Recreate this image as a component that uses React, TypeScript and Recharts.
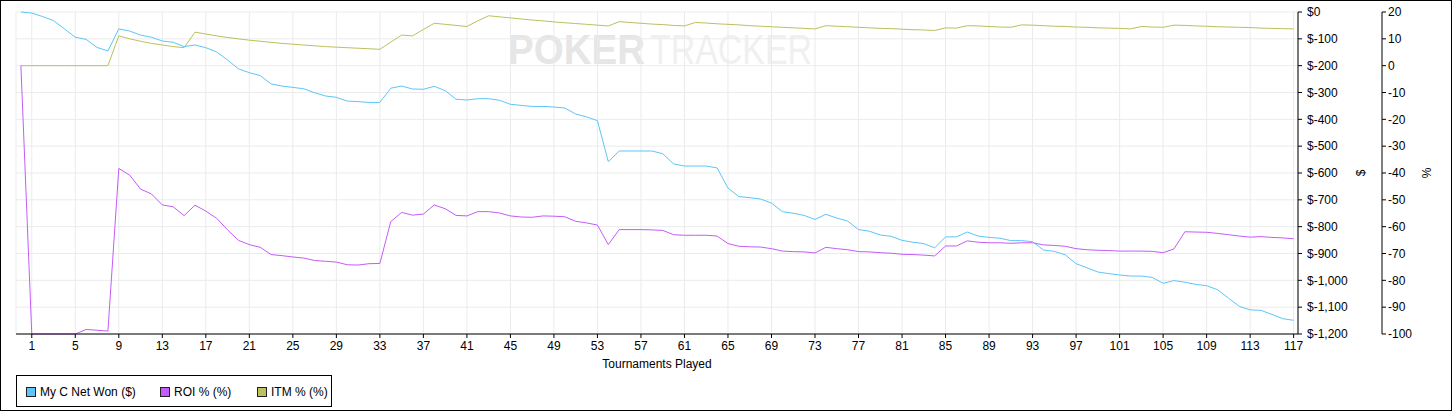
import { LineChart, Line, XAxis, YAxis, CartesianGrid } from "recharts";

const NET_WON = [
  0, -4, -17, -32, -63, -94, -102, -132, -145, -63,
  -71, -86, -94, -108, -113, -129, -123, -133, -149, -179,
  -212, -226, -237, -268, -276, -281, -286, -301, -313, -318,
  -332, -334, -337, -337, -284, -276, -287, -288, -277, -293,
  -325, -328, -323, -323, -329, -344, -348, -352, -352, -354,
  -358, -380, -391, -405, -558, -518, -518, -518, -518, -528,
  -566, -574, -574, -574, -581, -656, -688, -692, -697, -712,
  -744, -750, -758, -773, -754, -768, -779, -811, -817, -831,
  -836, -851, -858, -863, -879, -838, -838, -820, -835, -840,
  -843, -852, -852, -856, -887, -892, -905, -938, -953, -969,
  -975, -980, -984, -984, -989, -1011, -1001, -1007, -1015, -1020,
  -1035, -1066, -1097, -1110, -1112, -1127, -1143, -1149,
];

const ROI = [
  0, -100, -100, -100, -100, -100, -98.3, -98.6, -98.9, -38.3,
  -40.8, -46, -47.8, -51.9, -52.6, -55.9, -52, -54.2, -56.9, -61.2,
  -65.1, -66.7, -67.7, -70.4, -70.8, -71.3, -71.7, -72.6, -72.9, -73.2,
  -74.2, -74.3, -73.8, -73.7, -58.1, -54.7, -55.7, -55.3, -51.9, -53.3,
  -55.8, -56, -54.4, -54.4, -54.9, -56, -56.4, -56.5, -56, -56.1,
  -56.3, -58, -58.6, -59.4, -66.7, -61.1, -61.1, -61.1, -61.2, -61.4,
  -63, -63.2, -63.2, -63.2, -63.5, -66.3, -67.3, -67.5, -67.6, -68.2,
  -69.1, -69.3, -69.4, -69.8, -67.7, -68.2, -68.6, -69.3, -69.4, -69.7,
  -69.9, -70.3, -70.4, -70.6, -70.9, -67.2, -67.2, -65.3, -65.8, -66,
  -66, -66.2, -66, -66, -66.8, -67, -67.3, -68.2, -68.6, -68.8,
  -68.9, -69.1, -69.1, -69.1, -69.2, -69.7, -68.3, -61.9, -62, -62.1,
  -62.5, -63, -63.5, -63.9, -63.7, -64, -64.2, -64.5,
];

const ITM = [
  0, 0, 0, 0, 0, 0, 0, 0, 0, 11.1,
  10.0, 9.1, 8.3, 7.7, 7.1, 6.7, 12.5, 11.8, 11.1, 10.5,
  10.0, 9.5, 9.1, 8.7, 8.3, 8.0, 7.7, 7.4, 7.1, 6.9,
  6.7, 6.5, 6.3, 6.1, 8.8, 11.4, 11.1, 13.5, 15.8, 15.4,
  15.0, 14.6, 16.7, 18.6, 18.2, 17.8, 17.4, 17.0, 16.7, 16.3,
  16.0, 15.7, 15.4, 15.1, 14.8, 16.4, 16.1, 15.8, 15.5, 15.3,
  15.0, 14.8, 16.1, 15.9, 15.6, 15.4, 15.2, 14.9, 14.7, 14.5,
  14.3, 14.1, 13.9, 13.7, 14.9, 14.7, 14.5, 14.3, 14.1, 13.9,
  13.8, 13.6, 13.4, 13.3, 13.1, 14.1, 14.0, 14.9, 14.8, 14.6,
  14.4, 14.3, 15.2, 15.1, 14.9, 14.7, 14.6, 14.4, 14.3, 14.1,
  14.0, 13.9, 13.7, 14.6, 14.4, 14.3, 15.1, 15.0, 14.8, 14.7,
  14.5, 14.4, 14.3, 14.2, 14.0, 13.9, 13.8, 13.7,
];

const X_TICKS = [
  1, 5, 9, 13, 17, 21, 25, 29, 33, 37, 41, 45, 49, 53, 57, 61, 65, 69, 73,
  77, 81, 85, 89, 93, 97, 101, 105, 109, 113, 117,
];
const USD_TICKS = [0, -100, -200, -300, -400, -500, -600, -700, -800, -900, -1000, -1100, -1200];
const PCT_TICKS = [20, 10, 0, -10, -20, -30, -40, -50, -60, -70, -80, -90, -100];

const BLUE = "#5cc6f8";
const PURPLE = "#c35cf8";
const OLIVE = "#bcc05e";
const FONT = "'Liberation Sans', Arial, sans-serif";

// axis ids: recharts orders stacked right axes by id, "a_usd" sits next to the plot
const USD_AXIS = "a_usd";
const PCT_AXIS = "b_pct";

const data = NET_WON.map((netWon, t) => ({ t, netWon, roi: ROI[t], itm: ITM[t] }));

const fmtUsd = (v: number) => (v === 0 ? "$0" : "$-" + Math.abs(v).toLocaleString("en-US"));

const tickStyle = { fill: "#000", fontSize: 12, fontFamily: FONT };

function sideLabel(text: string, dx: number) {
  return (props: any) => {
    const vb = props.viewBox;
    const x = vb.x + dx;
    const y = vb.y + vb.height / 2;
    return (
      <text x={x} y={y} transform={`rotate(-90 ${x} ${y})`} textAnchor="middle" dy="0.35em" fontSize={12} fontFamily={FONT} fill="#000">
        {text}
      </text>
    );
  };
}

const xLabel = (props: any) => {
  const vb = props.viewBox;
  return (
    <text x={vb.x + vb.width / 2} y={vb.y + 34} textAnchor="middle" fontSize={12} fontFamily={FONT} fill="#000">
      Tournaments Played
    </text>
  );
};

const LEGEND = [
  { name: "My C Net Won ($)", color: BLUE, left: 9 },
  { name: "ROI % (%)", color: PURPLE, left: 143 },
  { name: "ITM % (%)", color: OLIVE, left: 240 },
];

export default function App() {
  return (
    <div style={{ position: "absolute", left: 0, top: 0, width: 1452, height: 412, background: "#fff", fontFamily: FONT }}>
      {/* watermark */}
      <svg width={1452} height={412} style={{ position: "absolute", left: 0, top: 0 }}>
        <text x={508} y={64} fontSize={43} fontWeight="bold" fontFamily={FONT} fill="#e6e6e6" textLength={137} lengthAdjust="spacingAndGlyphs">
          POKER
        </text>
        <text x={650} y={64} fontSize={43} fontFamily={FONT} fill="#f0f0f0" textLength={162} lengthAdjust="spacingAndGlyphs">
          TRACKER
        </text>
      </svg>
      <div style={{ position: "absolute", left: 0, top: 0 }}>
        <LineChart width={1452} height={412} data={data} margin={{ top: 12, right: 10, bottom: 38, left: 16 }}>
          <CartesianGrid stroke="#ebebeb" yAxisId={USD_AXIS} />
          <XAxis
            dataKey="t"
            type="number"
            domain={[-0.45, 117.4]}
            ticks={X_TICKS}
            interval={0}
            tick={tickStyle}
            tickSize={4}
            tickMargin={3}
            height={40}
            axisLine={{ stroke: "#000" }}
            tickLine={{ stroke: "#000" }}
            label={xLabel}
            allowDataOverflow
          />
          <XAxis xAxisId="top" orientation="top" dataKey="t" type="number" domain={[-0.45, 117.4]} height={0} tick={false} tickLine={false} axisLine={{ stroke: "#000" }} />
          <YAxis yAxisId="frame" orientation="left" width={0} domain={[0, 1]} tick={false} tickLine={false} axisLine={{ stroke: "#000" }} />
          <YAxis
            yAxisId={USD_AXIS}
            orientation="right"
            domain={[-1200, 0]}
            ticks={USD_TICKS}
            interval={0}
            tickFormatter={fmtUsd}
            tick={tickStyle}
            tickSize={4}
            tickMargin={5}
            width={84}
            axisLine={{ stroke: "#000" }}
            tickLine={{ stroke: "#000" }}
            label={sideLabel("$", 63)}
          />
          <YAxis
            yAxisId={PCT_AXIS}
            orientation="right"
            domain={[-100, 20]}
            ticks={PCT_TICKS}
            interval={0}
            tick={tickStyle}
            tickSize={4}
            tickMargin={2}
            width={60}
            axisLine={{ stroke: "#000" }}
            tickLine={{ stroke: "#000" }}
            label={sideLabel("%", 45)}
          />
          <Line yAxisId={PCT_AXIS} dataKey="itm" stroke={OLIVE} strokeWidth={1} dot={false} isAnimationActive={false} />
          <Line yAxisId={PCT_AXIS} dataKey="roi" stroke={PURPLE} strokeWidth={1} dot={false} isAnimationActive={false} />
          <Line yAxisId={USD_AXIS} dataKey="netWon" stroke={BLUE} strokeWidth={1} dot={false} isAnimationActive={false} />
        </LineChart>
      </div>
      {/* legend */}
      <div style={{ position: "absolute", left: 16, top: 375, width: 316, height: 32, border: "1px solid #000", boxSizing: "border-box" }}>
        {LEGEND.map((item) => (
          <div key={item.name} style={{ position: "absolute", left: item.left, top: 10, display: "flex", alignItems: "center", fontSize: 12, lineHeight: "12px", color: "#000" }}>
            <span style={{ display: "inline-block", width: 8, height: 8, border: "1px solid #222", background: item.color, marginRight: 4 }} />
            <span>{item.name}</span>
          </div>
        ))}
      </div>
      {/* outer frame */}
      <div style={{ position: "absolute", left: 0, top: 0, width: 1452, height: 411, border: "1px solid #000", boxSizing: "border-box", pointerEvents: "none" }} />
    </div>
  );
}
